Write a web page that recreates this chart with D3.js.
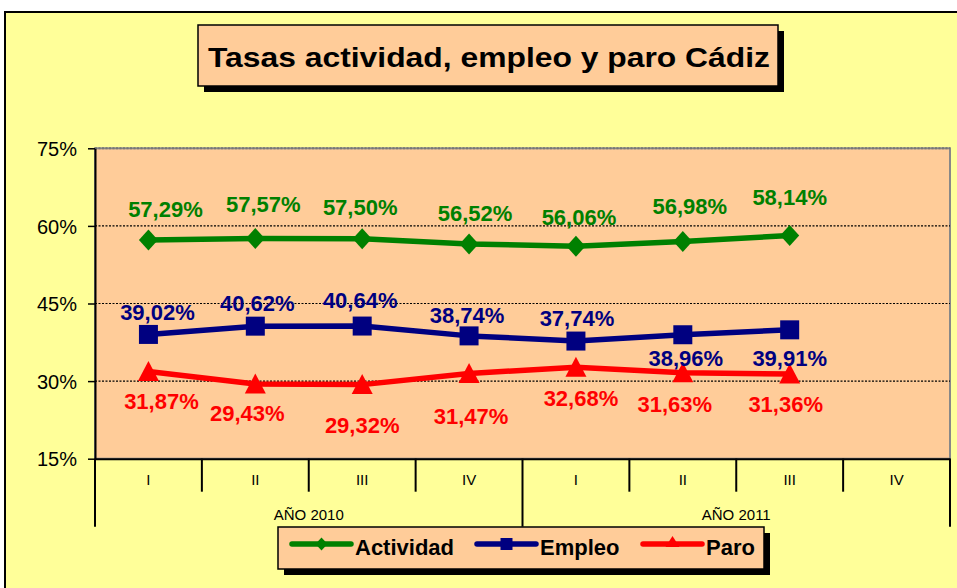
<!DOCTYPE html>
<html>
<head>
<meta charset="utf-8">
<script src="https://cdn.jsdelivr.net/npm/d3@7"></script>
<style>
  body { margin: 0; background: #fff; }
  svg { display: block; font-family: "Liberation Sans", Arial, sans-serif; }
</style>
</head>
<body>
<svg id="chart" width="957" height="588"></svg>
<script>
// data
const quarters = ['I', 'II', 'III', 'IV', 'I', 'II', 'III', 'IV'];
const years = ['AÑO 2010', 'AÑO 2011'];
const actividad = [57.29, 57.57, 57.50, 56.52, 56.06, 56.98, 58.14];
const empleo = [39.02, 40.62, 40.64, 38.74, 37.74, 38.96, 39.91];
const paro = [31.87, 29.43, 29.32, 31.47, 32.68, 31.63, 31.36];
const yTicks = [15, 30, 45, 60, 75];

// label nudges (dx, dy from the marker centre), like the hand placed labels in the original
const actOff = [[17,-31],[8,-34],[-2,-32],[6,-31],[3,-29],[7,-36],[0,-39]];
const empOff = [[9,-22],[2,-23],[-2,-26],[-2,-21],[1,-23],[3,23],[0,28]];
const parOff = [[13,30],[-8,29],[0,40],[2,43],[5,31],[-8,31],[-4,30]];

const margin = { top: 148.3, right: 7, bottom: 129.3, left: 95 };
const W = 957, H = 588;
const width = W - margin.left - margin.right;   // 855
const height = H - margin.top - margin.bottom;  // 310.4

const svg = d3.select('#chart');

// outer chart area
svg.append('rect')
  .attr('x', 5).attr('y', 12)
  .attr('width', W).attr('height', H)
  .attr('fill', '#FFFF99')
  .attr('stroke', '#000').attr('stroke-width', 2);

// title box with shadow
svg.append('rect').attr('x', 204).attr('y', 31).attr('width', 580).attr('height', 61).attr('fill', '#000');
svg.append('rect').attr('x', 198).attr('y', 25).attr('width', 580).attr('height', 61)
  .attr('fill', '#FFCC99').attr('stroke', '#000').attr('stroke-width', 1.5);
svg.append('text')
  .attr('x', 208).attr('y', 67)
  .attr('font-size', 28).attr('font-weight', 'bold')
  .attr('textLength', 562).attr('lengthAdjust', 'spacingAndGlyphs')
  .text('Tasas actividad, empleo y paro Cádiz');

const g = svg.append('g').attr('transform', `translate(${margin.left},${margin.top})`);

const x = d3.scaleBand()
  .domain(d3.range(quarters.length))
  .range([0, width]);
const y = d3.scaleLinear()
  .domain([15, 75])
  .range([height, 0]);

// plot area
g.append('rect')
  .attr('width', width).attr('height', height)
  .attr('fill', '#FFCC99')
  .attr('stroke', '#888').attr('stroke-width', 2);

// grid lines
g.selectAll('.grid')
  .data(yTicks.slice(1))
  .enter().append('line')
  .attr('x1', 0).attr('x2', width)
  .attr('y1', d => y(d)).attr('y2', d => y(d))
  .attr('stroke', d => d === 75 ? '#777' : '#000')
  .attr('stroke-width', d => d === 75 ? 2 : 1.2)
  .attr('stroke-dasharray', '2,1.5');

// y axis
const yAxis = d3.axisLeft(y).tickValues(yTicks).tickFormat(d => d + '%').tickSize(7).tickPadding(11).tickSizeOuter(0);
const ya = g.append('g').call(yAxis);
ya.select('.domain').attr('stroke', '#000').attr('stroke-width', 2);
ya.selectAll('.tick line').attr('stroke', '#000').attr('stroke-width', 1.5);
ya.selectAll('.tick text')
  .attr('font-size', 20).attr('fill', '#000')
  .attr('font-family', '"Liberation Sans", Arial, sans-serif')
  .attr('dy', '0.36em');

// x axis
const xAxis = d3.axisBottom(x).tickFormat(i => quarters[i]).tickSize(0).tickPadding(16).tickSizeOuter(0);
const xa = g.append('g').attr('transform', `translate(0,${height})`).call(xAxis);
xa.select('.domain').attr('stroke', '#000').attr('stroke-width', 2);
xa.selectAll('.tick text')
  .attr('font-size', 15).attr('fill', '#000')
  .attr('font-family', '"Liberation Sans", Arial, sans-serif');

// category separators below the axis
const bounds = d3.range(quarters.length + 1);
g.selectAll('.sep')
  .data(bounds)
  .enter().append('line')
  .attr('x1', k => k === quarters.length ? width : x(k))
  .attr('x2', k => k === quarters.length ? width : x(k))
  .attr('y1', height)
  .attr('y2', k => k % 4 === 0 ? height + 68 : height + 33)
  .attr('stroke', '#000').attr('stroke-width', 2);

// year labels
g.selectAll('.year')
  .data(years)
  .enter().append('text')
  .attr('x', (d, i) => (x(i * 4) + (i * 4 + 4 < quarters.length ? x(i * 4 + 4) : width)) / 2)
  .attr('y', height + 61)
  .attr('text-anchor', 'middle')
  .attr('font-size', 15)
  .text(d => d);

// markers
const diamond = { draw(ctx) { ctx.moveTo(0, -10.5); ctx.lineTo(9.5, 0); ctx.lineTo(0, 10.5); ctx.lineTo(-9.5, 0); ctx.closePath(); } };
const square = { draw(ctx) { ctx.rect(-9.5, -9.5, 19, 19); } };
const triangle = { draw(ctx) { ctx.moveTo(0, -10.5); ctx.lineTo(10.5, 9.5); ctx.lineTo(-10.5, 9.5); ctx.closePath(); } };
const diamondS = { draw(ctx) { ctx.moveTo(0, -6.5); ctx.lineTo(6, 0); ctx.lineTo(0, 6.5); ctx.lineTo(-6, 0); ctx.closePath(); } };
const squareS = { draw(ctx) { ctx.rect(-6, -6, 12, 12); } };
const triangleS = { draw(ctx) { ctx.moveTo(0, -8); ctx.lineTo(7, 3); ctx.lineTo(-7, 3); ctx.closePath(); } };

const series = [
  { name: 'Actividad', values: actividad, color: '#008000', sym: diamond, symS: diamondS, off: actOff },
  { name: 'Empleo', values: empleo, color: '#000080', sym: square, symS: squareS, off: empOff },
  { name: 'Paro', values: paro, color: '#FF0000', sym: triangle, symS: triangleS, off: parOff }
];

const cx = i => x(i) + x.bandwidth() / 2;
const line = d3.line().x((d, i) => cx(i)).y(d => y(d));

series.forEach(s => {
  g.append('path')
    .datum(s.values)
    .attr('d', line)
    .attr('fill', 'none')
    .attr('stroke', s.color)
    .attr('stroke-width', 5.5)
    .attr('stroke-linejoin', 'round');

  g.selectAll(null)
    .data(s.values)
    .enter().append('path')
    .attr('d', d3.symbol().type(s.sym))
    .attr('transform', (d, i) => `translate(${cx(i)},${y(d)})`)
    .attr('fill', s.color);
});

series.forEach(s => {
  g.selectAll(null)
    .data(s.values)
    .enter().append('text')
    .attr('x', (d, i) => cx(i) + s.off[i][0])
    .attr('y', (d, i) => y(d) + s.off[i][1] + 8)
    .attr('text-anchor', 'middle')
    .attr('font-size', 22)
    .attr('font-weight', 'bold')
    .attr('fill', s.color)
    .text(d => d.toFixed(2).replace('.', ',') + '%');
});

// legend
svg.append('rect').attr('x', 284).attr('y', 533).attr('width', 486).attr('height', 42).attr('fill', '#000');
svg.append('rect').attr('x', 278).attr('y', 527).attr('width', 486).attr('height', 42)
  .attr('fill', '#FFCC99').attr('stroke', '#000').attr('stroke-width', 1.5);

const legendX = [292, 477, 643];
const leg = svg.selectAll('.leg')
  .data(series)
  .enter().append('g')
  .attr('transform', (d, i) => `translate(${legendX[i]},544)`);
leg.append('line')
  .attr('x1', 0).attr('x2', 59)
  .attr('stroke', d => d.color).attr('stroke-width', 5.5)
  .attr('stroke-linecap', 'round');
leg.append('path')
  .attr('d', d => d3.symbol().type(d.symS)())
  .attr('transform', 'translate(29.5,0)')
  .attr('fill', d => d.color);
leg.append('text')
  .attr('x', 63).attr('y', 11)
  .attr('font-size', 22).attr('font-weight', 'bold')
  .text(d => d.name);
</script>
</body>
</html>
